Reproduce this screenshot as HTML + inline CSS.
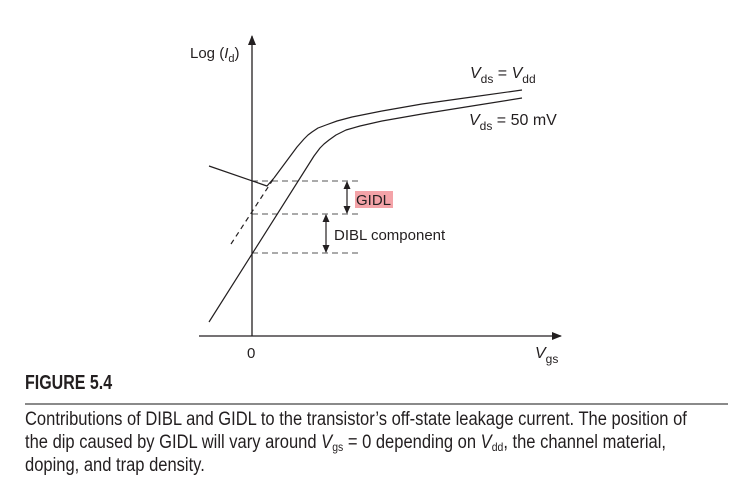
<!DOCTYPE html>
<html><head><meta charset="utf-8"><style>
body{margin:0;background:#fff;width:750px;height:489px;overflow:hidden;font-family:"Liberation Sans",sans-serif}
svg text{font-family:"Liberation Sans",sans-serif;fill:#231f20}
.cap{position:absolute;left:25px;font-family:"Liberation Sans Narrow","Liberation Sans",sans-serif;color:#231f20;transform-origin:0 0;white-space:nowrap}
sub{font-size:12px;line-height:0;vertical-align:-3px}
</style></head><body>
<svg width="750" height="489" style="position:absolute;left:0;top:0">
<defs><marker id="ah" markerWidth="10" markerHeight="10" refX="9" refY="5" orient="auto" markerUnits="userSpaceOnUse"><path d="M0,1 L10,5 L0,9 Z" fill="#231f20"/></marker>
<marker id="sa2" markerWidth="8" markerHeight="8" refX="7" refY="4" orient="auto-start-reverse" markerUnits="userSpaceOnUse"><path d="M0,0.5 L8,4 L0,7.5 Z" fill="#231f20"/></marker></defs>
<g id="plot"></g>
<text x="190" y="58" font-size="15">Log (<tspan font-style="italic">I</tspan><tspan font-size="11" dy="4">d</tspan><tspan dy="-4">)</tspan></text>
<text x="247" y="358" font-size="15">0</text>
<text x="535" y="358" font-size="16" font-style="italic">V<tspan font-size="12" font-style="normal" dy="5">gs</tspan></text>
<text x="470" y="78" font-size="16"><tspan font-style="italic">V</tspan><tspan font-size="12" dy="5">ds</tspan><tspan dy="-5"> = </tspan><tspan font-style="italic">V</tspan><tspan font-size="12" dy="5">dd</tspan></text>
<text x="469" y="125" font-size="16"><tspan font-style="italic">V</tspan><tspan font-size="12" dy="5">ds</tspan><tspan dy="-5"> = 50 mV</tspan></text>
<rect x="355" y="191" width="38" height="17" fill="#f4a3a8"/>
<text x="356" y="205" font-size="15">GIDL</text>
<text x="334" y="240" font-size="15">DIBL component</text>
</svg>
<div class="cap" style="top:372px;font-weight:bold;font-size:20px;transform:scaleX(0.8)">FIGURE 5.4</div>
<div style="position:absolute;left:25px;top:403px;width:703px;height:2px;background:#8a8a8a"></div>
<div class="cap" style="top:408px;font-size:19px;line-height:23px;transform:scaleX(0.87)">Contributions of DIBL and GIDL to the transistor’s off-state leakage current. The position of<br>the dip caused by GIDL will vary around <i>V</i><sub>gs</sub> = 0 depending on <i>V</i><sub>dd</sub>, the channel material,<br>doping, and trap density.</div>
<script>
// data units: vgs (x), log Id (y)
const vddVgs = [0.22,0.45,0.52,0.56,0.60,0.66,0.74,0.85,1.00,1.30,1.70,2.20,2.70];
const vddLog = [1.58,1.89,1.97,2.01,2.04,2.08,2.11,2.15,2.19,2.25,2.32,2.39,2.46];
const dashVgs = [-0.21,0.22];
const dashLog = [0.92,1.58];
const mvVgs = [-0.43,0.62,0.68,0.72,0.77,0.84,0.94,1.08,1.30,1.70,2.20,2.70];
const mvLog = [0.14,1.80,1.88,1.92,1.96,2.01,2.06,2.10,2.15,2.22,2.30,2.38];
const gidlVgs = [-0.43,0.12,0.15,0.22];
const gidlLog = [1.70,1.51,1.50,1.58];
const levels = [1.55,1.22,0.83];
const X = v => 252 + v*100, Y = l => 336 - l*100;
const g = document.getElementById('plot');
const NS = 'http://www.w3.org/2000/svg';
function mk(t, a){const e=document.createElementNS(NS,t);for(const k in a)e.setAttribute(k,a[k]);g.appendChild(e);return e;}
function poly(xs, ys, name, dash){
  let d=''; xs.forEach((v,i)=>{d+=(i?'L':'M')+X(v)+','+Y(ys[i]);});
  const e=mk('path',{d:d,fill:'none',stroke:'#231f20','stroke-width':'1.2','stroke-linejoin':'round'});
  if(dash)e.setAttribute('stroke-dasharray',dash);
  
  
}
levels.forEach((l,i)=>{
  const e=mk('line',{x1:X(0),x2:X(1.06),y1:Y(l),y2:Y(l),stroke:'#555','stroke-width':'1','stroke-dasharray':'6,4'});
  
  
});
poly(vddVgs,vddLog,'curve-vdd');
poly(dashVgs,dashLog,'curve-vdd-extrapolated','5,4');
poly(mvVgs,mvLog,'curve-50mv');
poly(gidlVgs,gidlLog,'gidl-branch');
function dbl(x,l1,l2,name){
  const e=mk('line',{x1:x,x2:x,y1:Y(l1)+1,y2:Y(l2)-1,stroke:'#231f20','stroke-width':'1.2','marker-end':'url(#sa2)','marker-start':'url(#sa2)'});
  
  
}
dbl(347,levels[0],levels[1],'gidl-arrow');
dbl(326,levels[1],levels[2],'dibl-arrow');
const ya=mk('line',{x1:252,y1:336,x2:252,y2:36,stroke:'#231f20','stroke-width':'1.3','marker-end':'url(#ah)'});


const xa=mk('line',{x1:199,y1:336,x2:561,y2:336,stroke:'#231f20','stroke-width':'1.3','marker-end':'url(#ah)'});


</script>
</body></html>
